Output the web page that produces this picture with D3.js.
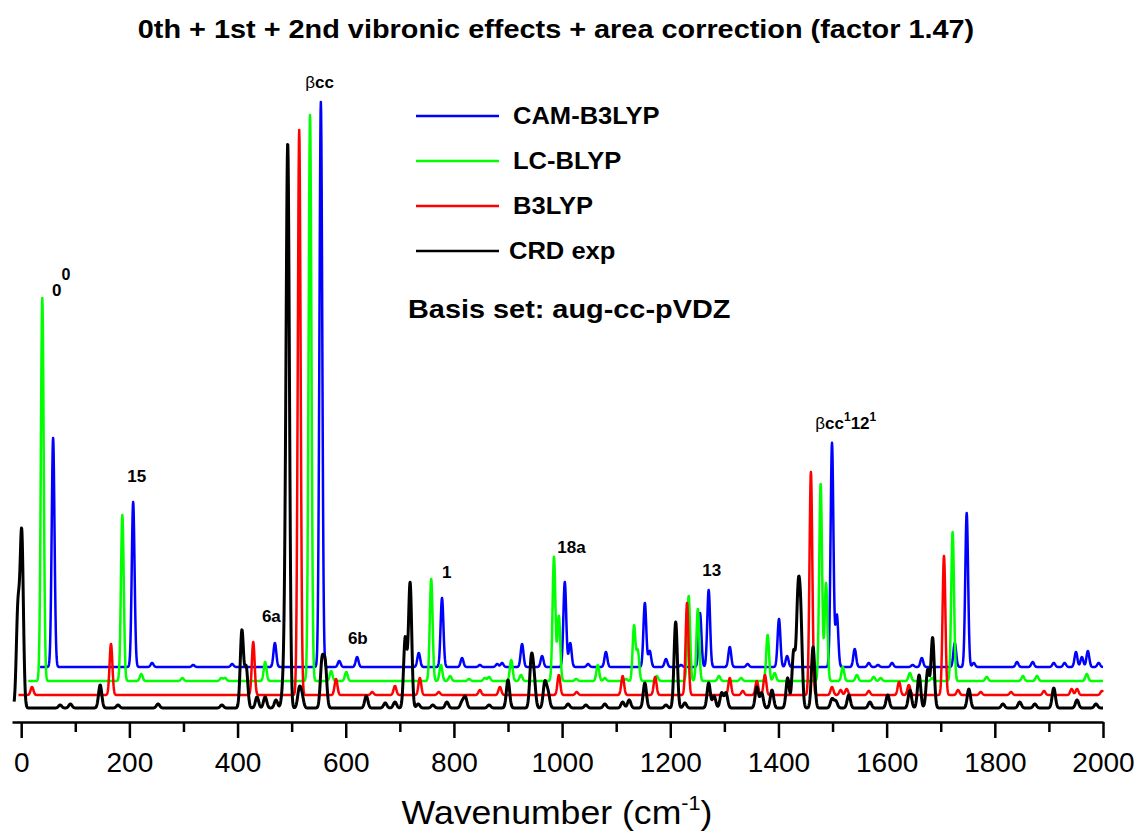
<!DOCTYPE html>
<html>
<head>
<meta charset="utf-8">
<script src="https://cdn.jsdelivr.net/npm/d3@7"></script>
<style>
  body { margin: 0; background: #fff; }
  text { font-family: Arial, "Liberation Sans", sans-serif; }
</style>
</head>
<body>
<svg id="chart" width="1140" height="836"></svg>
<script>
// peak lists: [wavenumber (cm-1), intensity]
const camPeaks = [
  [59, 229], [207, 165], [242, 4], [318, 2], [390, 3], [469, 24], [554, 565], [588, 6], [621, 10],
  [735, 14], [778, 69], [815, 9], [848, 2], [880, 3], [889, 4], [926, 23], [963, 11], [1005, 85],
  [1015, 24], [1048, 3], [1081, 15], [1153, 64], [1162, 16], [1192, 8], [1220, 2], [1255, 54],
  [1271, 77], [1310, 20], [1343, 3], [1401, 48], [1416, 11], [1499, 224], [1508, 52], [1541, 18],
  [1567, 4], [1584, 2], [1610, 4], [1648, 2], [1665, 9], [1726, 24], [1748, 154], [1761, 4],
  [1841, 5], [1870, 5], [1909, 4], [1929, 4], [1950, 15], [1961, 10], [1972, 16], [1992, 4]
];
const lcPeaks = [
  [39, 383], [187, 166], [222, 7], [298, 3], [370, 3], [377, 3], [451, 19], [534, 566], [573, 10],
  [601, 9], [758, 102], [776, 16], [793, 5], [828, 2], [857, 3], [865, 4], [906, 21], [924, 6],
  [985, 124], [994, 65], [1026, 2], [1066, 16], [1079, 3], [1118, 2], [1133, 55], [1140, 30],
  [1175, 5], [1234, 85], [1251, 72], [1290, 5], [1331, 3], [1380, 46], [1393, 8], [1478, 197],
  [1488, 98], [1519, 14], [1545, 6], [1576, 4], [1589, 3], [1643, 8], [1684, 3], [1722, 149],
  [1785, 4], [1852, 5], [1878, 5], [1970, 7]
];
const b3Peaks = [
  [20, 8], [166, 51], [429, 53], [514, 565], [582, 16], [649, 3], [691, 9], [737, 17], [772, 3],
  [848, 5], [885, 8], [994, 20], [1027, 3], [1112, 19], [1172, 18], [1231, 92], [1310, 17],
  [1334, 4], [1360, 14], [1375, 20], [1460, 223], [1499, 8], [1515, 5], [1526, 6], [1567, 4],
  [1623, 13], [1641, 10], [1706, 139], [1732, 5], [1774, 3], [1830, 3], [1891, 4], [1942, 6],
  [1952, 6], [1998, 4]
];
const crdPeaks = [
  [-6, 98], [1, 173], [72, 3], [91, 4], [146, 23], [179, 3], [253, 4], [371, 3], [408, 77],
  [416, 40], [436, 11], [451, 11], [471, 8], [484, 15], [489, 80], [493, 530], [514, 18], [519, 12],
  [556, 45], [562, 43], [638, 12], [673, 5], [691, 6], [710, 70], [719, 125], [734, 4], [761, 3],
  [787, 6], [815, 6], [821, 11], [865, 3], [900, 28], [943, 46], [948, 28], [968, 25], [974, 15],
  [1011, 4], [1044, 3], [1079, 4], [1112, 6], [1124, 8], [1153, 25], [1192, 3], [1210, 86],
  [1227, 5], [1271, 25], [1281, 12], [1295, 15], [1303, 15], [1360, 21], [1369, 15], [1388, 18],
  [1417, 30], [1428, 55], [1436, 100], [1441, 85], [1464, 61], [1499, 9], [1506, 7], [1530, 13],
  [1569, 6], [1602, 13], [1643, 18], [1660, 33], [1676, 38], [1685, 70], [1752, 19], [1815, 4],
  [1846, 6], [1874, 4], [1909, 20], [1952, 8], [1987, 4]
];

const seriesNames = ["CAM-B3LYP", "LC-BLYP", "B3LYP", "CRD exp"];
const seriesColors = ["#0000ff", "#00ff00", "#ff0000", "#000000"];
const seriesOffsets = [41, 27, 13, 0];
const seriesStarts = [35, 13, -5, -13];
const seriesWidths = [2.5, 2.5, 2.5, 3];
const seriesPeaks = [camPeaks, lcPeaks, b3Peaks, crdPeaks];

const xTicks = [0, 200, 400, 600, 800, 1000, 1200, 1400, 1600, 1800, 2000];
const xMinorTicks = [100, 300, 500, 700, 900, 1100, 1300, 1500, 1700, 1900];

// peak labels: parts of text, anchored at wavenumber / intensity
const annotations = [
  { x: 57, y: 412, parts: [["0"], ["0", "sup0"]] },
  { x: 196, y: 226, parts: [["15"]] },
  { x: 445, y: 86, parts: [["6a"]] },
  { x: 604, y: 64, parts: [["6b"]] },
  { x: 778, y: 130, parts: [["1"]] },
  { x: 991, y: 155, parts: [["18a"]] },
  { x: 1259, y: 132, parts: [["13"]] },
  { x: 525, y: 620, parts: [["β", "greek"], ["cc"]] },
  { x: 1468, y: 279, parts: [["β", "greek"], ["cc"], ["1", "sup"], ["12", "base"], ["1", "sup"]] }
];

const svg = d3.select("#chart");

const x = d3.scaleLinear().domain([-17, 2000]).range([12, 1103]);
const y = d3.scaleLinear().domain([0, 620]).range([708, 88]);

// the source figure is a little stretched sideways, so texts get a horizontal scale
const stretch = 1.11;
function stretchText(sel) {
  sel.each(function () {
    const w = this.getComputedTextLength();
    d3.select(this).attr("textLength", w * stretch).attr("lengthAdjust", "spacingAndGlyphs");
  });
}

// title
svg.append("text")
  .attr("x", 556).attr("y", 38)
  .attr("text-anchor", "middle")
  .attr("font-size", 26).attr("font-weight", "bold")
  .text("0th + 1st + 2nd vibronic effects + area correction (factor 1.47)")
  .call(stretchText);

// spectra (gaussian broadening of the stick peaks)
const line = d3.line().x(d => x(d[0])).y(d => y(d[1]));
seriesPeaks.forEach((peaks, i) => {
  const sigma = i === 3 ? 3 : 2.6;
  const pts = d3.range(seriesStarts[i], 2000.01, 0.5).map(w => [
    w,
    seriesOffsets[i] + d3.sum(peaks, p => p[1] * Math.exp(-((w - p[0]) ** 2) / (2 * sigma * sigma)))
  ]);
  svg.append("path")
    .datum(pts)
    .attr("fill", "none")
    .attr("stroke", seriesColors[i])
    .attr("stroke-width", seriesWidths[i])
    .attr("stroke-linejoin", "round")
    .attr("d", line);
});

// x axis
const axisY = 722;
const gx = svg.append("g")
  .attr("transform", `translate(0,${axisY})`)
  .call(d3.axisBottom(x).tickValues(xTicks).tickFormat(d3.format("d"))
    .tickSize(16).tickSizeOuter(0).tickPadding(14));
gx.select(".domain").attr("stroke-width", 2.5).attr("stroke", "#000");
gx.selectAll(".tick line").attr("stroke-width", 2.5);
gx.selectAll(".tick text").attr("font-size", 28).attr("font-family", "Arial, 'Liberation Sans', sans-serif");

const gm = svg.append("g")
  .attr("transform", `translate(0,${axisY})`)
  .call(d3.axisBottom(x).tickValues(xMinorTicks).tickSize(10).tickFormat(""));
gm.select(".domain").remove();
gm.selectAll(".tick line").attr("stroke-width", 2.5);

const xt = svg.append("text")
  .attr("text-anchor", "middle")
  .attr("transform", "translate(557,824) scale(1.08,1)")
  .attr("font-size", 33);
xt.append("tspan").text("Wavenumber (cm");
xt.append("tspan").attr("font-size", 20).attr("dy", -14).text("-1");
xt.append("tspan").attr("dy", 14).text(")");

// legend
const legend = svg.append("g");
seriesNames.forEach((name, i) => {
  const ly = 116 + i * 45;
  legend.append("line")
    .attr("x1", 416).attr("x2", 499).attr("y1", ly).attr("y2", ly)
    .attr("stroke", seriesColors[i]).attr("stroke-width", 2.5);
  legend.append("text")
    .attr("x", i === 3 ? 509 : 513).attr("y", ly + 8)
    .attr("font-size", 23).attr("font-weight", "bold")
    .text(name)
    .call(stretchText);
});
svg.append("text")
  .attr("x", 408).attr("y", 318)
  .attr("font-size", 26).attr("font-weight", "bold")
  .text("Basis set: aug-cc-pVDZ")
  .call(stretchText);

// peak labels
annotations.forEach(a => {
  const t = svg.append("text")
    .attr("x", x(a.x)).attr("y", y(a.y))
    .attr("font-size", 17).attr("font-weight", "bold");
  let shift = 0;
  a.parts.forEach(([s, kind]) => {
    const sp = t.append("tspan").text(s);
    let target = 0;
    if (kind === "sup") { sp.attr("font-size", 12); target = -8; }
    if (kind === "sup0") { sp.attr("font-size", 16); target = -16; }
    if (kind === "greek") sp.attr("font-weight", "normal");
    if (target !== shift) { sp.attr("dy", target - shift); shift = target; }
  });
});
</script>
</body>
</html>
